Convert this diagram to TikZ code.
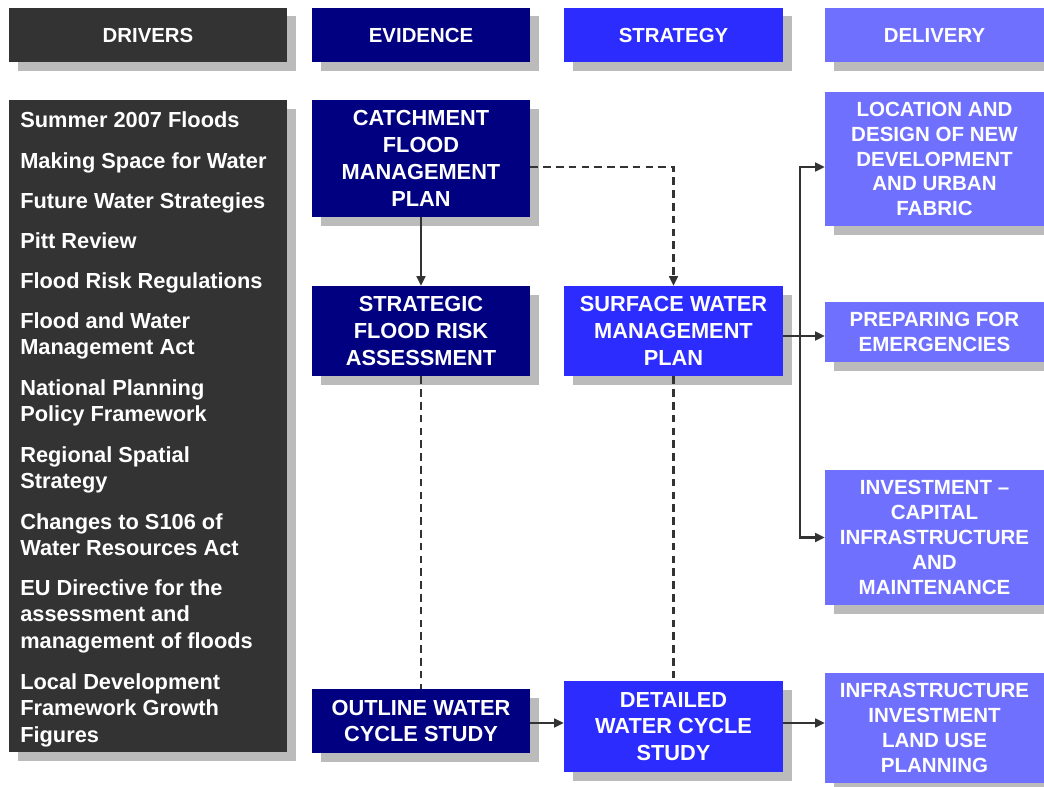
\documentclass[tikz,border=0pt]{standalone}
\usepackage{fontspec}
\setmainfont{Liberation Sans}
\usetikzlibrary{shadows,arrows.meta}
\definecolor{drvgray}{HTML}{333333}
\definecolor{evnavy}{HTML}{000080}
\definecolor{strblue}{HTML}{2C2CFF}
\definecolor{delblue}{HTML}{7070FF}
\definecolor{shadowgray}{HTML}{BBBBBB}
\definecolor{linegray}{HTML}{333333}

\begin{document}
\begin{tikzpicture}[x=0.025cm,y=-0.025cm,
  box/.style={text=white,align=center,inner sep=0pt,
    font=\bfseries\fontsize{15.5}{19.1}\selectfont,
    drop shadow={shadow xshift=0.22cm,shadow yshift=-0.22cm,fill=shadowgray,opacity=1}},
  delbox/.style={box,fill=delblue,minimum width=5.475cm,
    font=\bfseries\fontsize{14.6}{17.7}\selectfont},
  header/.style={box,minimum height=1.37cm,font=\bfseries\fontsize{14.5}{17}\selectfont},
  item/.style={anchor=north west,text=white,align=left,inner sep=0pt,
    font=\bfseries\fontsize{15.5}{19.1}\selectfont},
  conn/.style={draw=linegray,line width=1.5pt,-{Triangle[length=2.4mm,width=2.2mm]}},
  dashline/.style={draw=linegray,line width=1.5pt,dash pattern=on 0.19cm off 0.13cm}]

  \useasboundingbox[fill=white] (0,0) rectangle (1044,787);

  \foreach \name/\cx/\w/\col/\txt in {drvhead/148/6.95/drvgray/DRIVERS,
      evhead/421/5.45/evnavy/EVIDENCE, strhead/673.5/5.475/strblue/STRATEGY,
      delhead/934.5/5.475/delblue/DELIVERY}
    \node[header,fill=\col,minimum width=\w cm] (\name) at (\cx,35) {\txt};

  \node[box,fill=drvgray,minimum width=6.95cm,minimum height=16.3cm] (drivers) at (148,426) {};
  \foreach \y/\txt [count=\i] in {111/{Summer 2007 Floods}, 152/{Making Space for Water},
      192/{Future Water Strategies}, 232/{Pitt Review}, 272/{Flood Risk Regulations},
      312/{Flood and Water\\Management Act}, 379/{National Planning\\Policy Framework},
      446/{Regional Spatial\\Strategy}, 513/{Changes to S106 of\\Water Resources Act},
      579/{EU Directive for the\\assessment and\\management of floods},
      673/{Local Development\\Framework Growth\\Figures}}
    \node[item] (drv\i) at (20,\y) {\txt};

  \node[box,fill=evnavy,minimum width=5.45cm,minimum height=2.925cm] (cfmp) at (421,158.5)
    {CATCHMENT\\FLOOD\\MANAGEMENT\\PLAN};
  \node[box,fill=evnavy,minimum width=5.45cm,minimum height=2.25cm] (sfra) at (421,331)
    {STRATEGIC\\FLOOD RISK\\ASSESSMENT};
  \node[box,fill=evnavy,minimum width=5.45cm,minimum height=1.6cm] (owcs) at (421,721)
    {OUTLINE WATER\\CYCLE STUDY};
  \node[box,fill=strblue,minimum width=5.475cm,minimum height=2.25cm] (swmp) at (673.5,331)
    {SURFACE WATER\\MANAGEMENT\\PLAN};
  \node[box,fill=strblue,minimum width=5.475cm,minimum height=2.275cm] (dwcs) at (673.5,726.5)
    {DETAILED\\WATER CYCLE\\STUDY};

  \node[delbox,minimum height=3.35cm] (loc) at (934.5,159)
    {LOCATION AND\\DESIGN OF NEW\\DEVELOPMENT\\AND URBAN\\FABRIC};
  \node[delbox,minimum height=1.5cm] (prep) at (934.5,332)
    {PREPARING FOR\\EMERGENCIES};
  \node[delbox,minimum height=3.375cm] (inv) at (934.5,537.5)
    {INVESTMENT --\\CAPITAL\\INFRASTRUCTURE\\AND\\MAINTENANCE};
  \node[delbox,minimum height=2.75cm] (infra) at (934.5,728)
    {INFRASTRUCTURE\\INVESTMENT\\LAND USE\\PLANNING};

  \coordinate (bus) at (800,167);
  \coordinate (preprow) at (800,336);
  \coordinate (cyclerow) at (800,723);

  \draw[conn] (cfmp) -- (sfra);
  \draw[dashline,-{Triangle[length=2.4mm,width=2.2mm]}] (cfmp.east |- bus) -| (swmp.north);
  \draw[dashline] (sfra) -- (owcs);
  \draw[dashline] (swmp) -- (dwcs);
  \draw[conn] (owcs.east |- cyclerow) -- (cyclerow -| dwcs.west);
  \draw[conn] (dwcs.east |- cyclerow) -- (cyclerow -| infra.west);
  \draw[conn] (swmp.east |- preprow) -- (preprow -| prep.west);
  \draw[conn] (preprow) |- (bus -| loc.west);
  \draw[conn] (preprow) |- (inv.west);
\end{tikzpicture}
\end{document}
